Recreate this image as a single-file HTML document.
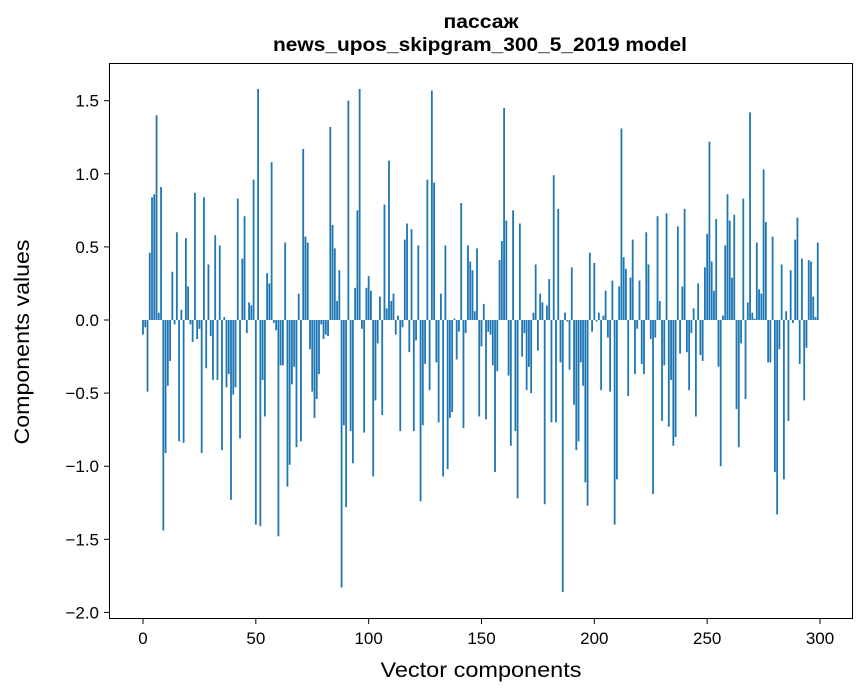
<!DOCTYPE html>
<html><head><meta charset="utf-8"><style>
html,body{margin:0;padding:0;background:#fff;}
svg{display:block;font-family:"Liberation Sans","DejaVu Sans",sans-serif;}
</style></head><body>
<svg id="chart" width="867" height="696" viewBox="0 0 867 696" xmlns="http://www.w3.org/2000/svg">
<text x="481" y="28" text-anchor="middle" font-size="19" font-weight="bold" textLength="75" lengthAdjust="spacingAndGlyphs">пассаж</text>
<text x="480" y="51" text-anchor="middle" font-size="19" font-weight="bold" textLength="414" lengthAdjust="spacingAndGlyphs">news_upos_skipgram_300_5_2019 model</text>
<g id="bars"></g>
<g id="yticks"></g>
<g id="xticks"></g>
<rect x="109.5" y="63.5" width="743" height="555" fill="none" stroke="#000" stroke-width="1"/>
<text x="481" y="677" text-anchor="middle" font-size="21" textLength="201" lengthAdjust="spacingAndGlyphs">Vector components</text>
<text x="0" y="0" transform="translate(29,342) rotate(-90)" text-anchor="middle" font-size="21" textLength="205" lengthAdjust="spacingAndGlyphs">Components values</text>
</svg>
<script>
const values = [
-0.10,-0.05,-0.49,0.46,0.84,0.86,1.40,0.05,0.91,-1.44,
-0.91,-0.45,-0.28,0.33,-0.03,0.60,-0.83,0.07,-0.84,0.56,
0.23,-0.03,-0.15,0.87,-0.13,-0.06,-0.91,0.84,-0.33,0.38,
-0.11,-0.41,0.58,-0.41,0.51,-0.89,0.02,-0.46,-0.37,-1.23,
-0.51,-0.46,0.83,-0.81,0.42,0.71,-0.09,0.12,0.10,0.96,
-1.40,1.58,-1.41,-0.41,-0.66,0.32,0.25,1.08,-0.02,-0.07,
-1.48,-0.31,-0.31,0.53,-1.14,-0.99,-0.44,-0.32,-0.87,0.18,
-0.83,1.17,0.57,0.53,-0.20,-0.49,-0.67,-0.54,-0.37,-0.03,
-0.13,-0.10,-0.11,1.32,0.65,0.49,0.13,0.34,-1.83,-0.72,
-1.28,1.50,-0.76,-0.98,0.22,0.75,1.58,-0.06,-0.77,0.22,
0.30,0.20,-1.07,-0.55,-0.16,0.16,-0.65,0.79,0.08,1.09,
0.13,0.18,-0.10,0.03,-0.76,-0.05,0.55,0.66,-0.22,0.62,
-0.76,-0.14,0.51,-1.24,-0.72,-0.30,0.96,-0.48,1.57,0.94,
-0.29,-0.70,0.18,-1.07,0.51,-1.02,-0.67,-0.63,0.01,-0.27,
-0.08,0.80,-0.74,-0.09,0.51,0.40,0.34,0.06,0.49,-0.66,
-0.18,0.11,-0.68,-0.08,-0.10,-0.31,-1.04,-0.35,0.41,0.54,
1.45,0.68,-0.38,-0.86,0.75,-0.76,-1.22,0.66,-0.25,-0.09,
-0.48,-0.32,-0.50,0.05,0.38,-0.21,0.18,0.12,-1.26,0.10,
0.28,-0.70,0.99,-0.70,0.76,-0.29,-1.86,0.05,-0.01,-0.34,
0.36,-0.58,-0.89,-0.83,-0.29,-0.45,-1.11,-1.27,0.46,-0.08,
0.39,-0.01,0.05,-0.48,0.03,0.20,-0.12,-0.49,0.27,-1.40,
-1.09,0.23,1.31,0.43,0.35,-0.52,0.29,0.55,-0.37,-0.06,
0.27,-0.30,-0.37,0.60,0.38,-0.13,-1.19,-0.12,0.71,0.13,
-0.69,-0.31,0.73,-0.73,-0.41,-0.86,-0.80,0.64,-0.23,0.23,
0.76,-0.22,-0.48,-0.09,0.08,-0.66,0.25,-0.24,-0.28,0.36,
0.59,1.22,0.40,0.20,0.69,-0.32,-1.00,0.03,0.51,0.86,
0.68,0.29,0.72,-0.61,-0.87,-0.16,0.83,-0.54,0.12,1.42,
0.05,0.01,0.53,0.21,0.18,1.03,0.67,-0.29,-0.29,0.57,
-1.04,-1.33,-0.20,0.38,-1.09,0.06,-0.69,0.34,-0.02,0.55,
0.70,-0.30,0.42,-0.55,-0.19,0.41,0.40,0.16,0.02,0.53
];
const yTicks = [1.5,1.0,0.5,0.0,-0.5,-1.0,-1.5,-2.0];
const xTicks = [0,50,100,150,200,250,300];

const NS = "http://www.w3.org/2000/svg";
function xScale(i){ return 143 + i * 2.2567; }
function yScale(v){ return 320 - v * 146.2; }

const barsG = document.getElementById('bars');
values.forEach((v, i) => {
  const r = document.createElementNS(NS, 'rect');
  const w = 0.8 * 2.2567;
  const y0 = yScale(0), y1 = yScale(v);
  r.setAttribute('x', xScale(i) - w / 2);
  r.setAttribute('y', Math.min(y0, y1));
  r.setAttribute('width', w);
  r.setAttribute('height', Math.max(Math.abs(y1 - y0), 0.3));
  r.setAttribute('fill', '#1f77b4');
  
  
  barsG.appendChild(r);
});

const yG = document.getElementById('yticks');
yTicks.forEach(t => {
  const y = yScale(t);
  const l = document.createElementNS(NS, 'line');
  l.setAttribute('x1', 104); l.setAttribute('x2', 109.5);
  l.setAttribute('y1', y); l.setAttribute('y2', y);
  l.setAttribute('stroke', '#000');
  
  
  yG.appendChild(l);
  const tx = document.createElementNS(NS, 'text');
  tx.setAttribute('x', 99); tx.setAttribute('y', y + 6);
  tx.setAttribute('text-anchor', 'end');
  tx.setAttribute('font-size', '17');
  tx.textContent = t.toFixed(1).replace('-', '\u2212');
  
  
  yG.appendChild(tx);
});

const xG = document.getElementById('xticks');
xTicks.forEach(t => {
  const x = xScale(t);
  const l = document.createElementNS(NS, 'line');
  l.setAttribute('x1', x); l.setAttribute('x2', x);
  l.setAttribute('y1', 618.5); l.setAttribute('y2', 624);
  l.setAttribute('stroke', '#000');
  
  
  xG.appendChild(l);
  const tx = document.createElementNS(NS, 'text');
  tx.setAttribute('x', x); tx.setAttribute('y', 644);
  tx.setAttribute('text-anchor', 'middle');
  tx.setAttribute('font-size', '17');
  tx.textContent = String(t);
  
  
  xG.appendChild(tx);
});
</script>
</body></html>
